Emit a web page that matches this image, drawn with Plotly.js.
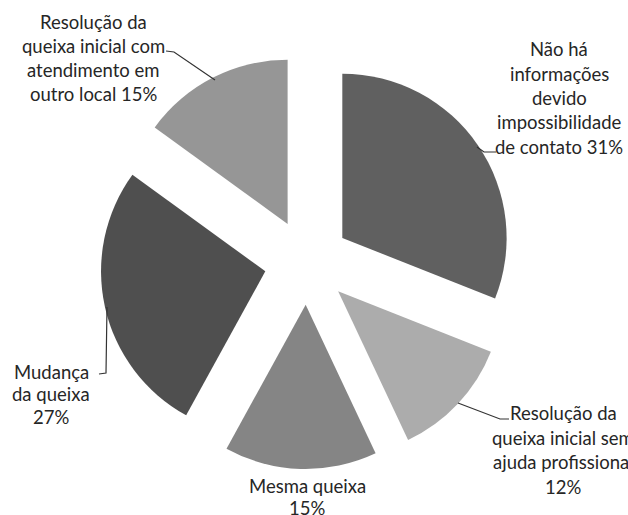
<!DOCTYPE html>
<html><head><meta charset="utf-8">
<script src="https://cdn.plot.ly/plotly-3.0.1.min.js"></script>
<style>html,body{margin:0;padding:0;background:#fff}</style>
</head><body><div id="chart" style="width:628px;height:515px"></div>
<script>
// ---- data ----
const categories = [
  "Não há informações devido impossibilidade de contato",
  "Resolução da queixa inicial sem ajuda profissional",
  "Mesma queixa",
  "Mudança da queixa",
  "Resolução da queixa inicial com atendimento em outro local"
];
const values = [31, 12, 15, 27, 15];
const labelLines = [
  ["Não há", "informações", "devido", "impossibilidade", "de contato"],
  ["Resolução da", "queixa inicial sem", "ajuda profissional"],
  ["Mesma queixa"],
  ["Mudança", "da queixa"],
  ["Resolução da", "queixa inicial com", "atendimento em", "outro local"]
];
const pctOwnLine = [false, true, true, true, false];
const colors = ["#606060", "#acacac", "#858585", "#4f4f4f", "#969696"];

// ---- layout helpers (pixel positions of labels) ----
const W = 628, H = 515;
const labelPos = [[559, 98], [563, 450], [307, 497], [51, 394], [93, 58]];
const lineGap = [24.3, 24.5, 21.5, 22.5, 24];
const leaders = [
  [[477, 147], [484, 152], [496, 152]],
  [[458, 403], [500, 419], [509, 419]],
  null,
  [[107, 307], [106, 373], [99, 374]],
  [[166, 51], [174, 52], [215, 80]]
];
const px = x => x / W, py = y => 1 - y / H;

const annotations = [];
values.forEach((v, i) => {
  const lines = labelLines[i].slice();
  if (pctOwnLine[i]) lines.push(v + "%");
  else lines[lines.length - 1] += " " + v + "%";
  const n = lines.length;
  lines.forEach((t, k) => {
    const y = labelPos[i][1] + (k - (n - 1) / 2) * lineGap[i];
    annotations.push({
      text: t, xref: "paper", yref: "paper", x: px(labelPos[i][0]), y: py(y),
      xanchor: "center", yanchor: "middle", showarrow: false,
      font: {family: "Lato, sans-serif", size: 18.5, color: "#262626"}
    });
  });
});
const shapes = leaders.filter(Boolean).map(pts => ({
  type: "path", xref: "paper", yref: "paper",
  path: pts.map((p, k) => (k ? "L" : "M") + px(p[0]) + "," + py(p[1])).join(" "),
  line: {color: "#333333", width: 1.2}
}));

Plotly.newPlot("chart", [{
  type: "pie",
  labels: categories,
  values: values,
  sort: false,
  direction: "clockwise",
  rotation: 0,
  pull: 0.26,
  textinfo: "none",
  hoverinfo: "none",
  marker: {colors: colors, line: {width: 0}},
  domain: {x: [100 / W, 514 / W], y: [46 / H, 460 / H]}
}], {
  width: W, height: H,
  margin: {l: 0, r: 0, t: 0, b: 0},
  showlegend: false,
  paper_bgcolor: "#ffffff",
  annotations: annotations,
  shapes: shapes
}, {staticPlot: true});
</script>
</body></html>
